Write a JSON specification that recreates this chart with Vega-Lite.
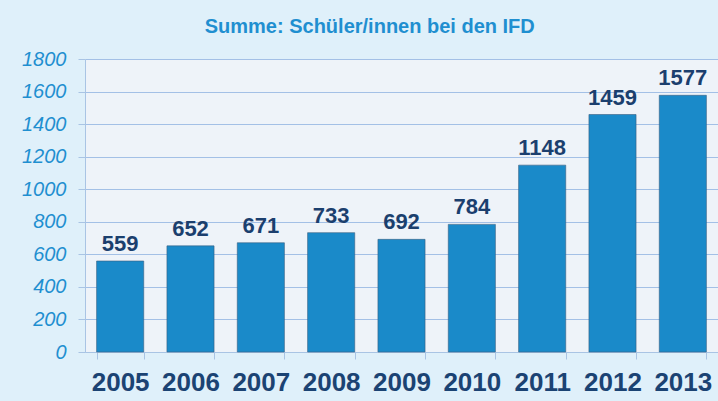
{
  "$schema": "https://vega.github.io/schema/vega-lite/v6.json",
  "width": 633,
  "height": 293,
  "autosize": {"type": "none"},
  "padding": {"left": 85, "top": 59, "right": 0, "bottom": 49},
  "background": "#dff0fa",
  "title": {
    "text": "Summe: Schüler/innen bei den IFD",
    "font": "Liberation Sans",
    "fontSize": 20,
    "fontWeight": "bold",
    "color": "#1f8fd0",
    "anchor": "middle",
    "frame": "bounds",
    "offset": 12
  },
  "data": {
    "values": [
      {"year": "2005", "count": 559},
      {"year": "2006", "count": 652},
      {"year": "2007", "count": 671},
      {"year": "2008", "count": 733},
      {"year": "2009", "count": 692},
      {"year": "2010", "count": 784},
      {"year": "2011", "count": 1148},
      {"year": "2012", "count": 1459},
      {"year": "2013", "count": 1577}
    ]
  },
  "encoding": {
    "x": {
      "field": "year",
      "type": "ordinal",
      "scale": {"paddingInner": 0.33, "paddingOuter": 0.165},
      "axis": {
        "title": null,
        "labelAngle": 0,
        "labelFont": "Liberation Sans",
        "labelFontSize": 26,
        "labelFontWeight": "bold",
        "labelColor": "#1b4373",
        "labelPadding": 10,
        "tickBand": "extent",
        "tickSize": 7,
        "tickColor": "#a9c4e4",
        "domainColor": "#a9c4e4",
        "grid": false
      }
    },
    "y": {
      "field": "count",
      "type": "quantitative",
      "scale": {"domain": [0, 1800]},
      "axis": {
        "title": null,
        "format": "d",
        "values": [0, 200, 400, 600, 800, 1000, 1200, 1400, 1600, 1800],
        "labelFont": "Liberation Sans",
        "labelFontSize": 20,
        "labelFontStyle": "italic",
        "labelColor": "#1f8fd0",
        "labelPadding": 12,
        "tickSize": 7,
        "tickColor": "#a9c4e4",
        "domainColor": "#a9c4e4",
        "gridColor": "#a3c0e6",
        "gridOpacity": 1
      }
    }
  },
  "layer": [
    {
      "mark": {"type": "bar", "color": "#1a8ac9", "stroke": "#3b5f80", "strokeWidth": 1, "strokeOpacity": 0.6}
    },
    {
      "mark": {
        "type": "text",
        "baseline": "bottom",
        "dy": -5,
        "font": "Liberation Sans",
        "fontSize": 22,
        "fontWeight": "bold",
        "color": "#1b3f6e"
      },
      "encoding": {"text": {"field": "count", "type": "quantitative"}}
    }
  ],
  "config": {
    "view": {"fill": "#eef3f9", "stroke": null}
  }
}
